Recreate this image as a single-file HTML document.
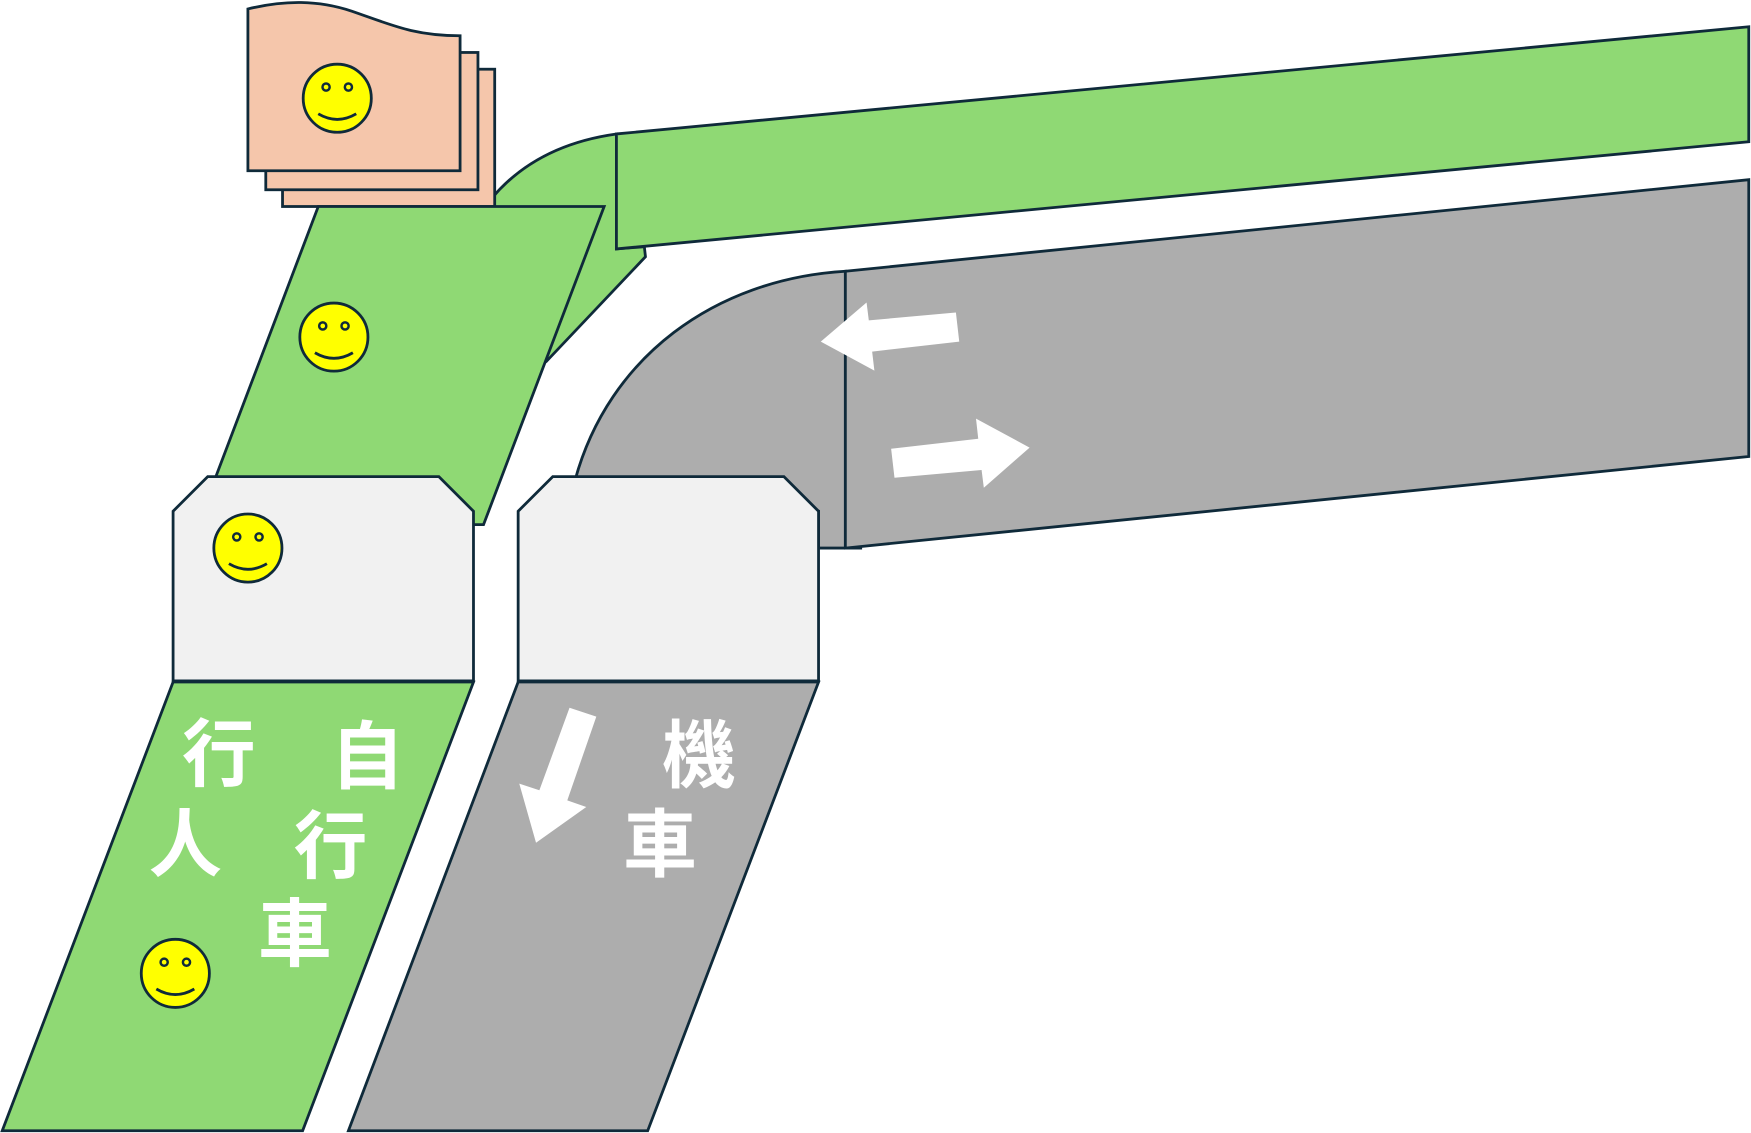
<!DOCTYPE html>
<html><head><meta charset="utf-8"><style>html,body{margin:0;padding:0;background:#fff}svg{display:block}</style></head>
<body>
<svg width="1751" height="1133" viewBox="0 0 1568 1015" preserveAspectRatio="none" xmlns="http://www.w3.org/2000/svg">
<defs>
<g id="sm">
<circle r="30.5" fill="#ff0" stroke="#0f2a3a" stroke-width="2.5"/>
<circle cx="-10" cy="-10" r="3.2" fill="none" stroke="#0f2a3a" stroke-width="2.2"/>
<circle cx="10" cy="-10" r="3.2" fill="none" stroke="#0f2a3a" stroke-width="2.2"/>
<path d="M-17,14 Q0,24 17,14" fill="none" stroke="#0f2a3a" stroke-width="2.5"/>
</g>
</defs>
<g stroke="#0f2a3a" stroke-width="2.5" stroke-linejoin="miter">
<path d="M440,178 Q480,130 552,120 L552,223 L577,221 L578,230 L490,323 L470,250 Z" fill="#8fd974"/>
<polygon points="552,120 1566,24 1566,127 552,223" fill="#8fd974"/>
<path d="M515,430 C545,320 640,250 757,243 L757,491 L772,491 L733,491 L733,458 Z" fill="#adadad"/>
<polygon points="757,243 1566,161 1566,409 757,491" fill="#adadad"/>
<rect x="253" y="62" width="190" height="123" fill="#f5c6ab"/>
<rect x="238" y="47" width="190" height="123" fill="#f5c6ab"/>
<path d="M222,8 C255,0 285,0 315,10 C350,22 370,32 412,32 L412,153 L222,153 Z" fill="#f5c6ab"/>
<polygon points="285,185 541,185 433,470 177,470" fill="#8fd974"/>
<polygon points="155,458 186,427 393,427 424,458 424,610 155,610" fill="#f1f1f1"/>
<polygon points="464,458 495,427 702,427 733,458 733,610 464,610" fill="#f1f1f1"/>
<polygon points="155,611 424,611 271,1013 2,1013" fill="#8fd974"/>
<polygon points="464,611 733,611 580,1013 312,1013" fill="#adadad"/>
</g>
<g fill="#fff">
<polygon points="735,306 776,271 778,287 856,280 859,306 781,315 783,332"/>
<polygon points="922,401 881,437 879,421 801,428 798,402 876,393 874,375"/>
<polygon points="480,755 465,702 483,708 510,634 534,642 508,717 525,723"/>
</g>
<use href="#sm" x="302" y="88"/>
<use href="#sm" x="299" y="302"/>
<use href="#sm" x="222" y="491"/>
<use href="#sm" x="157" y="872"/>
<g fill="#fff" font-family="'Liberation Sans','Noto Sans CJK TC',sans-serif" font-weight="bold" font-size="66" text-anchor="middle">
<text x="196" y="699">行</text>
<text x="166" y="780">人</text>
<text x="329" y="701">自</text>
<text x="296" y="781">行</text>
<text x="264" y="860">車</text>
<text x="626" y="700">機</text>
<text x="591" y="780">車</text>
</g>
</svg>
</body></html>
